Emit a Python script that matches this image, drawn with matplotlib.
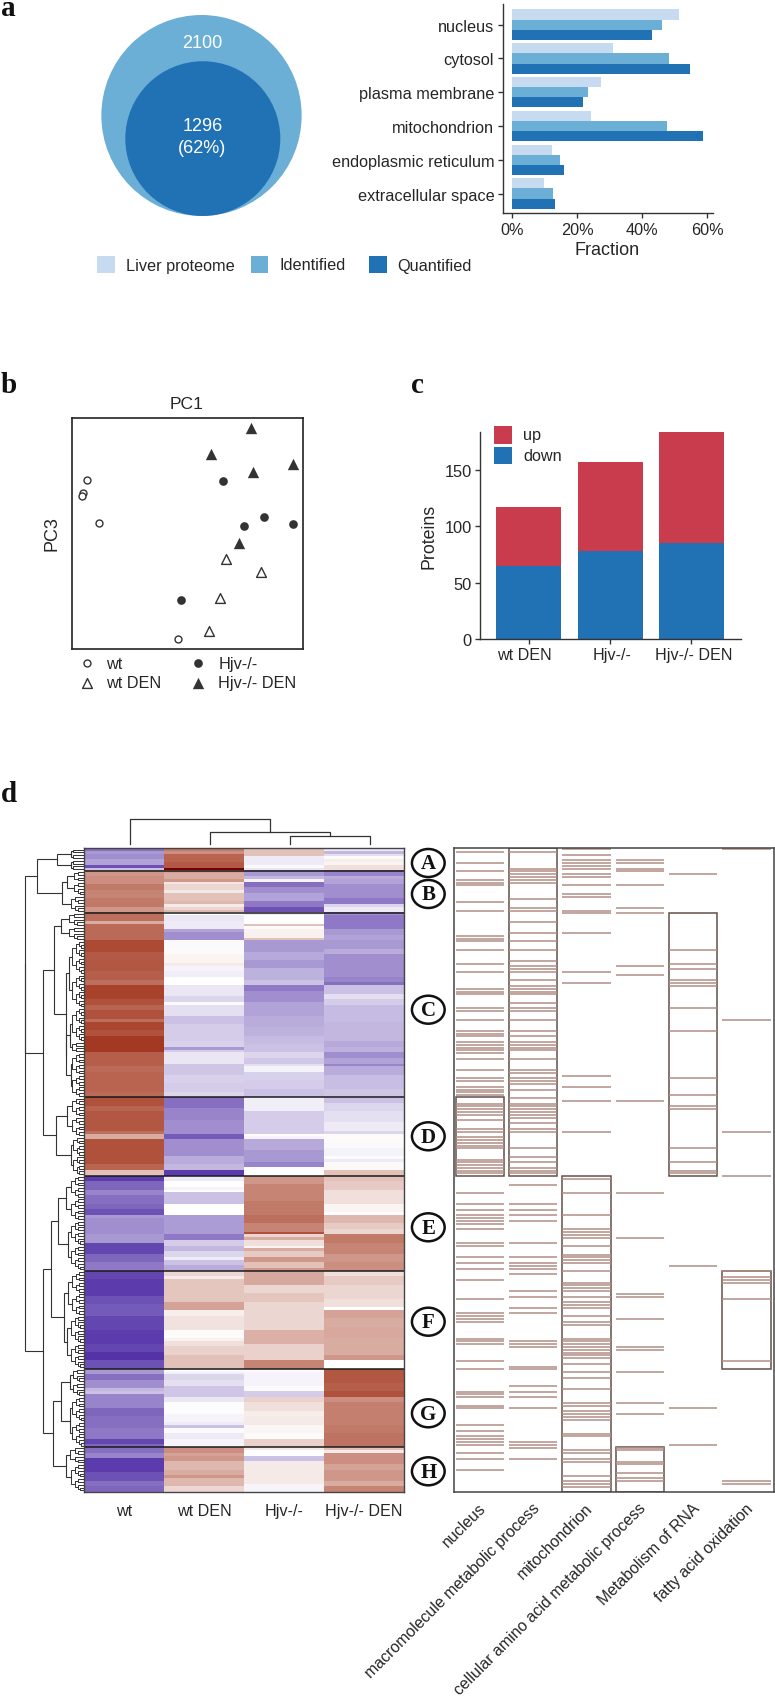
import numpy as np
import matplotlib
matplotlib.use('Agg')
import matplotlib.pyplot as plt
from matplotlib.colors import LinearSegmentedColormap
from matplotlib.patches import Ellipse, Rectangle

W, H = 775, 1699
SANS = ['Liberation Sans']
SERIF = ['Liberation Serif']
DARK = '#262626'

# panel a
venn_counts = ['2100', '1296\n(62%)']
locations = ['nucleus', 'cytosol', 'plasma membrane', 'mitochondrion',
             'endoplasmic reticulum', 'extracellular space']
liver_proteome = [51.2, 30.9, 27.2, 24.2, 12.1, 9.8]
identified = [46.05, 48.3, 23.4, 47.7, 14.7, 12.4]
quantified = [43.1, 54.7, 21.7, 58.7, 16.0, 13.3]

# panel b
wt_pc = [(6.3, 73.2), (4.9, 67.4), (4.2, 66.4), (11.5, 54.7), (46.0, 4.4)]
wt_den_pc = [(66.8, 39.0), (81.7, 33.2), (64.1, 21.9), (59.3, 7.9)]
hjv_pc = [(65.4, 72.9), (83.3, 57.2), (74.6, 53.3), (95.5, 53.9), (47.0, 21.2)]
hjv_den_pc = [(77.5, 95.8), (60.2, 84.6), (95.5, 80.0), (78.4, 76.7), (72.3, 46.0)]

# panel c
conditions = ['wt DEN', 'Hjv-/-', 'Hjv-/- DEN']
down = [65, 78, 85]
up = [52, 79, 98]

# panel d, heatmap columns as (rows, level) runs read top to bottom
samples = ['wt', 'wt DEN', 'Hjv-/-', 'Hjv-/- DEN']
cluster_names = ['A', 'B', 'C', 'D', 'E', 'F', 'G', 'H']
cluster_sizes = [8, 15, 66, 28, 34, 35, 28, 16]

wt_runs = [(1, -.7), (1, -.5), (2, -.55), (2, -.45), (1, -.85), (1, -.3),
           (2, .5), (3, .55), (2, .65), (3, .6), (3, .65), (2, .5),
           (3, .7), (1, .4), (6, .72),
           (4, .88), (3, .8), (4, .82), (3, .78), (2, .7),
           (5, .92), (2, .85), (2, .75), (3, .85), (1, .7), (3, .9), (2, .85), (6, .95),
           (5, .78), (2, .72), (7, .75), (2, .72),
           (3, .85), (2, .75), (7, .82), (1, .7), (2, .4), (9, .85), (2, .75), (2, .3),
           (2, -.95), (3, -.75), (2, -.6), (3, -.7), (2, -.75), (2, -.85),
           (1, -.5), (6, -.55), (3, -.5), (4, -.9), (3, -.75), (3, -.65),
           (3, -.9), (6, -.95), (3, -.85), (4, -.8), (5, -.9), (5, -.95), (3, -.9), (3, -1), (3, -.85),
           (2, -.5), (2, -.7), (3, -.55), (1, -.35), (1, -.3), (5, -.6), (3, -.75), (4, -.7), (4, -.65), (2, -.9), (1, -.75),
           (2, -.7), (2, -.6), (5, -.95), (3, -.85), (2, -.7), (2, -.75)]

wt_den_runs = [(1, .65), (1, .55), (3, .75), (2, .8), (1, 1),
               (1, .45), (2, .4), (1, .5), (1, .12), (2, .2), (1, .1), (3, .3), (1, .35), (1, .1), (1, .2), (1, .35),
               (1, 0), (2, -.12), (3, -.1), (1, -.45), (3, -.55),
               (3, -.03), (2, .02), (3, .05), (1, .1), (2, -.05), (2, -.08), (3, 0),
               (4, -.12), (2, -.2), (1, -.02), (4, -.15), (3, -.3), (6, -.25), (2, -.22), (1, -.5), (1, -.25),
               (4, -.12), (4, -.28), (3, -.22), (3, -.25), (2, -.2),
               (4, -.7), (4, -.6), (5, -.55), (2, -.8), (6, -.55), (3, -.4), (2, -.35), (2, -.95),
               (2, -.1), (2, 0), (1, -.05), (1, 0), (4, -.3), (4, 0),
               (7, -.48), (2, -.65), (2, -.25), (2, -.35), (2, -.2), (1, -.1), (2, -.3), (2, -.4),
               (2, .2), (1, .1), (8, .28), (3, .45),
               (2, .08), (5, .14), (3, .02), (1, .07), (2, .15), (3, .22), (1, .3), (4, .3),
               (1, -.03), (1, -.08), (2, -.2), (2, -.15), (4, -.28),
               (2, -.12), (4, -.01), (3, -.05), (1, -.1), (1, -.3), (2, -.02), (2, -.1), (3, -.05),
               (2, .55), (1, .45), (2, .5), (3, .35), (2, .4), (1, .5), (3, .35), (2, .2)]

hjv_runs = [(3, .3), (3, -.1), (1, -.02), (1, -.12),
            (2, -.5), (1, -.35), (1, -.05), (2, -.7), (2, -.55), (3, -.45), (2, -.65), (2, -.85),
            (1, -.1), (3, 0), (1, .3), (1, .02), (3, .07), (1, .3),
            (4, -.5), (3, -.42), (3, -.5), (4, -.38), (2, -.3),
            (2, -.65), (4, -.55), (5, -.45), (1, -.4), (3, -.4), (3, -.38), (3, -.33), (3, -.3),
            (2, -.2), (2, -.27), (1, -.15), (2, -.06), (3, -.22), (3, -.25), (3, -.3),
            (5, -.08), (8, -.25), (1, 0), (1, -.05), (4, -.42), (4, -.5), (2, -.6), (3, 0),
            (3, .5), (6, .6), (5, .65), (3, .7), (3, .6), (1, .85),
            (1, .2), (1, .4), (2, .15), (1, .05), (1, .4), (2, .25), (2, .5), (2, .3), (1, .5),
            (5, .42), (3, .2), (3, .28), (3, .2), (7, .2), (5, .38), (6, .22), (3, .6),
            (1, -.02), (5, -.05), (2, -.02), (2, -.25),
            (2, .22), (3, .15), (2, .08), (3, .1), (3, .04), (2, .02), (3, .22),
            (1, .1), (2, 0), (2, -.3), (1, .1), (7, .1), (1, .05), (2, -.05)]

hjv_den_runs = [(1, -.1), (1, -.35), (1, -.15), (1, .02), (1, .08), (1, .05), (2, .15),
                (2, -.6), (1, -.4), (2, -.45), (5, -.55), (2, -.65), (1, -.2), (2, -.1),
                (1, -.55), (5, -.65), (2, -.5), (2, -.45),
                (3, -.5), (2, -.4), (8, -.55), (2, -.6), (1, -.7),
                (3, -.3), (2, -.15), (2, -.25), (6, -.33), (3, -.35), (4, -.35), (2, -.42), (2, -.38),
                (2, -.55), (2, -.45), (1, -.6), (3, -.4), (5, -.32), (3, -.28),
                (2, -.3), (3, -.2), (4, -.15), (3, -.1), (1, -.2), (3, .02), (2, -.03), (3, -.06), (1, .01), (1, -.1), (3, .03), (2, .3),
                (2, .3), (3, .25), (5, .15), (3, .05), (1, 0), (3, .35), (2, .25), (2, .2),
                (3, .65), (4, .6), (3, .5), (3, .55),
                (2, .15), (3, .25), (5, .2), (3, .15), (1, 0),
                (3, .45), (3, .4), (4, .42), (6, .4), (2, .5), (3, 0),
                (5, .82), (3, .78), (2, .85), (2, .55), (8, .62), (3, .65), (5, .68),
                (1, .3), (1, .1), (4, .55), (2, .45), (4, .5), (2, .4), (2, .6)]

# panel d, annotation rows per term and the boxed row range of each term
terms = ['nucleus', 'macromolecule metabolic process', 'mitochondrion',
         'cellular amino acid metabolic process', 'Metabolism of RNA', 'fatty acid oxidation']
nucleus_rows = [1, 5, 8, 11, 12, 13, 19, 22, 31, 32, 33, 36, 41, 44, 50, 51, 52, 57, 58, 61, 65, 66, 67,
                69, 70, 71, 72, 73, 75, 79, 82, 83, 85, 86, 87, 88, 91, 92, 93, 94, 95, 97, 100, 101,
                103, 104, 105, 106, 107, 111, 112, 113, 114, 115, 116,
                123, 127, 129, 131, 132, 133, 134, 136, 141, 142, 146, 148, 150, 154, 161, 166, 167, 168, 169,
                175, 176, 177, 183, 186, 194, 195, 196, 199, 200, 206, 208, 210, 211, 212, 213, 216, 218, 222]
macro_rows = [1, 7, 8, 9, 10, 11, 12, 18, 21, 22, 26, 30, 33, 36, 40, 42, 43, 44, 47, 49, 50, 51, 52, 55, 57, 58,
              61, 65, 67, 69, 70, 71, 72, 75, 79, 80, 82, 83, 84, 86, 89, 91, 92, 93, 94, 95, 96, 98, 100, 101,
              107, 110, 112, 114, 115, 116,
              120, 127, 129, 131, 133, 141, 146, 148, 149, 150, 152, 158, 160, 164, 166, 176, 177, 178,
              185, 186, 192, 194, 196, 200, 212, 213, 214, 218]
mito_rows = [0, 2, 4, 5, 6, 7, 9, 10, 13, 16, 17, 22, 23, 30, 44, 48, 81, 85, 90, 101,
             118, 123, 131, 136, 137, 138, 139, 142, 145, 146, 147, 148, 151, 155, 156, 157, 158, 160,
             162, 163, 164, 167, 169, 170, 175, 176, 177, 178, 179, 180, 181, 182, 184, 187, 189, 193,
             198, 199, 201, 202, 203, 204, 209, 210, 215, 216, 218, 219, 224, 226, 227, 228]
amino_rows = [4, 5, 7, 8, 13, 21, 23, 42, 45, 90, 123, 139, 159, 160, 168, 178, 179, 187, 198, 202,
              214, 215, 219, 220, 223, 225, 226]
rna_rows = [9, 36, 41, 43, 47, 48, 49, 57, 65, 82, 88, 92, 93, 107, 112, 115, 116, 149, 200, 213]
fatty_rows = [0, 61, 101, 117, 151, 153, 154, 155, 161, 183, 226, 227]
term_rows = [nucleus_rows, macro_rows, mito_rows, amino_rows, rna_rows, fatty_rows]
term_boxes = [(89, 117), (0, 117), (117, 230), (214, 230), (23, 117), (151, 186)]

# row dendrogram: [merge distance, child, child], a plain int is a bundle of leaves
tree_a = [27, [13, 2, 2], [13, 2, 2]]
tree_b = [22, [17, [10, 4], [10, 5]], [13, 6]]
tree_c = [30, [23, [15, 5], [15, 5]],
          [18, [15, [12, 12], [12, 12]], [18, [14, [12, 12], [12, 4]], [13, [12, 8], [12, 8]]]]]
tree_d = [28, [17, [12, 7], [12, 7]], [13, [11, 7], [11, 7]]]
tree_e = [26, [18, [13, 8], [13, 8]], [16, [13, 9], [13, 9]]]
tree_f = [20, [16, [12, 8], [12, 8]], [17, [13, 10], [13, 9]]]
tree_g = [23, [14, [11, 5], [11, 5]], [14, [12, 9], [12, 9]]]
tree_h = [18, [14, 6], [13, 10]]
row_tree = [59.3, [59, [47, tree_a, tree_b], [41, tree_c, tree_d]],
            [41, [33, tree_e, tree_f], [31, tree_g, tree_h]]]


def axes_px(x0, y0, x1, y1):
    return fig.add_axes([x0 / W, 1 - y1 / H, (x1 - x0) / W, (y1 - y0) / H])


def expand_runs(runs):
    return np.repeat([r[1] for r in runs], [r[0] for r in runs])


def simple_spines(ax):
    for side in ['top', 'right']:
        ax.spines[side].set_visible(False)
    for side in ['left', 'bottom']:
        ax.spines[side].set_color('#333333')
        ax.spines[side].set_linewidth(1.0)


def draw_tree(ax, node, first_row):
    # returns the y of the node and the next free row
    if isinstance(node, int):
        return draw_bundle(ax, first_row, node, 11.5)
    dist = node[0]
    if len(node) == 2:
        return draw_bundle(ax, first_row, node[1], dist)
    y1, d1, next_row = draw_tree(ax, node[1], first_row)
    y2, d2, next_row = draw_tree(ax, node[2], next_row)
    ax.plot([d1, dist, dist, d2], [y1, y1, y2, y2], color='#333333', lw=0.8, solid_joinstyle='miter')
    return (y1 + y2) / 2, dist, next_row


def draw_bundle(ax, first_row, n, dist):
    if n == 1:
        return first_row + 0.5, 0, first_row + 1
    half = n // 2
    y1, d1, mid = draw_bundle(ax, first_row, half, dist * 0.68)
    y2, d2, end = draw_bundle(ax, mid, n - half, dist * 0.68)
    ax.plot([d1, dist, dist, d2], [y1, y1, y2, y2], color='#333333', lw=0.7)
    return (y1 + y2) / 2, dist, end


fig = plt.figure(figsize=(W / 100, H / 100), dpi=100)

# overlay in picture pixels for free text, venn and legend swatches
over = fig.add_axes([0, 0, 1, 1], zorder=5)
over.set_xlim(0, W)
over.set_ylim(H, 0)
over.axis('off')
over.patch.set_alpha(0)


def note(x, y, s, size=11.7, family=SANS, **kw):
    kw.setdefault('color', DARK)
    kw.setdefault('va', 'center')
    over.text(x, y, s, fontsize=size, family=family, **kw)


for label, x, y in [('a', 1, 15.5), ('b', 1, 393), ('c', 411, 393), ('d', 1, 802)]:
    note(x, y, label, size=21, family=SERIF, fontweight='bold', color='#111111', va='baseline')

# panel a, venn
over.add_patch(Ellipse((201.5, 116.5), 200.3, 201, fc='#6BAED6', ec='none'))
over.add_patch(Ellipse((202.8, 139.6), 155, 154.7, fc='#2171B5', ec='none'))
note(202.3, 43.3, venn_counts[0], size=13, color='white', ha='center')
note(202.3, 137.7, venn_counts[1], size=13, color='white', ha='center', linespacing=1.4)

# panel a, bars
ax = axes_px(503, 5, 712.7, 214.3)
ypos = np.arange(len(locations))
ax.barh(ypos - 0.3, liver_proteome, 0.3, color='#C6DBEF')
ax.barh(ypos, identified, 0.3, color='#6BAED6')
ax.barh(ypos + 0.3, quantified, 0.3, color='#2171B5')
ax.set_xlim(-2.86, 61.7)
ax.set_ylim(5.586, -0.612)
ax.set_yticks(ypos)
ax.set_yticklabels(locations, family=SANS, fontsize=11.7, color=DARK)
ax.set_xticks([0, 20, 40, 60])
ax.set_xticklabels(['0%', '20%', '40%', '60%'], family=SANS, fontsize=11.7, color=DARK)
ax.tick_params(length=3.6, width=1, color='#333333', pad=2.7)
simple_spines(ax)
note(607.3, 250.7, 'Fraction', size=13, ha='center')

swatch_a = [(97.3, 125.7, '#C6DBEF', 'Liver proteome'), (250.7, 279.3, '#6BAED6', 'Identified'),
            (369.3, 397.3, '#2171B5', 'Quantified')]
for x, tx, c, s in swatch_a:
    over.add_patch(Rectangle((x, 256.7), 17.4, 17.3, fc=c, ec='none'))
    note(tx, 266, s)

# panel b
ax = axes_px(72, 419, 303, 650)
ax.scatter(*zip(*wt_pc), s=25, marker='o', facecolors='white', edgecolors='#333333', linewidths=1)
ax.scatter(*zip(*wt_den_pc), s=50, marker='^', facecolors='white', edgecolors='#333333', linewidths=1)
ax.scatter(*zip(*hjv_pc), s=39, marker='o', color='#333333', linewidths=0)
ax.scatter(*zip(*hjv_den_pc), s=67, marker='^', color='#333333', linewidths=0)
ax.set_xlim(0, 100)
ax.set_ylim(0, 100)
ax.set_xticks([])
ax.set_yticks([])
for side in ax.spines.values():
    side.set_linewidth(1.2)
    side.set_color('#222222')
note(187, 404.3, 'PC1', size=12.6, ha='center')
note(52, 534, 'PC3', size=13, rotation=90, ha='center')

legend_b = [(87, 106.3, 664.3, 'o', 'white', 25, 'wt'), (87, 106.3, 684, '^', 'white', 50, 'wt DEN'),
            (198.3, 218.3, 664.3, 'o', '#333333', 39, 'Hjv-/-'), (198.3, 218.3, 684, '^', '#333333', 67, 'Hjv-/- DEN')]
for x, tx, y, m, fc, s, lab in legend_b:
    over.scatter([x], [y], s=s, marker=m, facecolors=fc, edgecolors='#333333', linewidths=1 if fc == 'white' else 0)
    note(tx, y, lab)

# panel c
ax = axes_px(480.3, 432.7, 740.7, 640.3)
xpos = np.arange(len(conditions))
ax.bar(xpos, down, 0.8, color='#2171B5')
ax.bar(xpos, up, 0.8, bottom=down, color='#C83C4E')
ax.set_xlim(-0.597, 2.606)
ax.set_ylim(0, 183.5)
ax.set_xticks(xpos)
ax.set_xticklabels([])
ax.set_yticks([0, 50, 100, 150])
ax.set_yticklabels(['0', '50', '100', '150'], family=SANS, fontsize=11.8, color=DARK)
ax.tick_params(length=3.6, width=1, color='#333333', pad=2.7)
simple_spines(ax)
# these three sit a little off their ticks in the original
for name, x in zip(conditions, [524, 612, 693.3]):
    note(x, 656, name, size=11.6, ha='center')
note(429, 536.7, 'Proteins', size=12.8, rotation=90, ha='center')
for y, c, s in [(427.3, '#C83C4E', 'up'), (448, '#2171B5', 'down')]:
    over.add_patch(Rectangle((494.3, y), 17.7, 17.4, fc=c, ec='none'))
    note(523, y + 8.7, s)

# panel d, heatmap
heat_cmap = LinearSegmentedColormap.from_list('heat', [(0, '#5433A8'), (0.5, '#FFFFFF'), (0.975, '#A63D25'), (1, '#7A0000')])
matrix = np.column_stack([expand_runs(r) for r in [wt_runs, wt_den_runs, hjv_runs, hjv_den_runs]])
n_rows = matrix.shape[0]
assert n_rows == sum(cluster_sizes)
edges = np.cumsum(cluster_sizes)

ax = axes_px(84.3, 849.3, 404, 1492.7)
ax.imshow(matrix, cmap=heat_cmap, vmin=-1, vmax=1, aspect='auto', interpolation='nearest',
          extent=(0, 4, n_rows, 0))
ax.hlines(edges[:-1], 0, 4, color='#1a1a1a', lw=1.1)
ax.set_yticks([])
ax.set_xticks(np.arange(4) + 0.5)
ax.set_xticklabels(samples, family=SANS, fontsize=11.6, color=DARK)
ax.tick_params(length=0, pad=8)
for side in ax.spines.values():
    side.set_linewidth(1.0)
    side.set_color('#444444')

# top dendrogram, over the four columns
ax = axes_px(84.3, 810, 404, 849.3)
col_x = np.arange(4) + 0.57
ax.plot([col_x[2], col_x[2], col_x[3], col_x[3]], [4, 12.7, 12.7, 4], color='#333333', lw=0.9)
mid_23 = (col_x[2] + col_x[3]) / 2
ax.plot([col_x[1], col_x[1], mid_23, mid_23], [4, 16.7, 16.7, 12.7], color='#333333', lw=0.9)
mid_123 = (col_x[1] + mid_23) / 2
ax.plot([col_x[0], col_x[0], mid_123, mid_123], [4, 29.7, 29.7, 16.7], color='#333333', lw=0.9)
ax.set_xlim(0, 4)
ax.set_ylim(0, 39.3)
ax.axis('off')

# left dendrogram
ax = axes_px(20, 849.3, 84.3, 1492.7)
draw_tree(ax, row_tree, 0)
ax.set_xlim(64.3, 0)
ax.set_ylim(n_rows, 0)
ax.axis('off')

# panel d, annotation stripes
ax = axes_px(454, 849.3, 774, 1492.7)
col_left = np.arange(len(terms)) + 0.03
col_width = 0.91
for i, rows in enumerate(term_rows):
    ax.hlines(np.array(rows) + 0.25, col_left[i], col_left[i] + col_width, color='#B08E84', lw=1.1)
    low, high = term_boxes[i]
    ax.add_patch(Rectangle((col_left[i], low), col_width, high - low, fill=False, ec='#655049', lw=1.1))
ax.set_xlim(0, len(terms))
ax.set_ylim(n_rows, 0)
ax.set_yticks([])
ax.set_xticks(col_left + col_width / 2 - 0.03)
ax.set_xticklabels(terms, family=SANS, fontsize=11.4, color=DARK, rotation=45, ha='right', va='top',
                   rotation_mode='anchor')
ax.tick_params(length=0, pad=6)
for side in ax.spines.values():
    side.set_linewidth(1.1)
    side.set_color('#444444')

# cluster badges
badge_y = [864, 895, 1010.7, 1137.3, 1228.3, 1322.7, 1414.3, 1472.3]
for name, y in zip(cluster_names, badge_y):
    over.add_patch(Ellipse((428.3, y), 32.7, 28, fc='white', ec='#111111', lw=1.8))
    note(428.3, y + 0.5, name, size=15, family=SERIF, fontweight='bold', color='#111111', ha='center')

fig.savefig('out.png', dpi=100)
